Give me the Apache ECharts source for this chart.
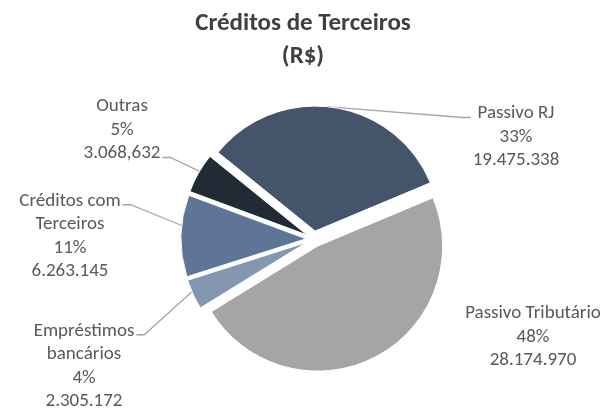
<!DOCTYPE html>
<html>
<head>
<meta charset="utf-8">
<script src="https://cdn.jsdelivr.net/npm/echarts@6/dist/echarts.min.js"></script>
<style>html,body{margin:0;padding:0;background:#fff}#c{width:606px;height:409px}</style>
</head>
<body>
<div id="c"></div>
<script>
var categories = ['Passivo RJ', 'Passivo Tributário', 'Empréstimos\nbancários', 'Créditos com\nTerceiros', 'Outras'];
var values = [19475338, 28174970, 2305172, 6263145, 3068632];
var valueLabels = ['19.475.338', '28.174.970', '2.305.172', '6.263.145', '3.068,632'];
var colors = ['#44546A', '#A5A5A5', '#8497B0', '#5E7597', '#222A35'];

// label placement (style): centre of label block, side and row the leader line attaches to
var labelPos = [[516, 137], [533, 337], [84, 366], [70, 236], [122, 130]];
var lineSide = ['left', null, 'right', 'right', 'right'];
var lineRow = [0, null, 0, 0, 2];
var anchorShift = [-0.05, 0, 0.2, 0.25, 0.1]; // where along the slice arc the leader line touches (fraction of half-span)

var FONT = 'Carlito, Lato, sans-serif';
var LH = 23.5;
var R = 125, OFFSET = 8;
var chart = echarts.init(document.getElementById('c'), null, {renderer: 'canvas'});

var sliceData = categories.map(function (c, i) {
  return {name: c, value: values[i], selected: true, itemStyle: {color: colors[i]}};
});
var labelData = categories.map(function (c, i) {
  var item = {name: c, value: values[i]};
  if (i === 1) item.labelLine = {show: false};
  return item;
});

function anchorOf(idx) {
  var data = chart.getModel().getSeriesByIndex(0).getData();
  var l = data.getItemLayout(idx);
  var mid = (l.startAngle + l.endAngle) / 2;
  var half = (l.endAngle - l.startAngle) / 2;
  var ang = mid + half * anchorShift[idx];
  var r = l.r;
  return [l.cx + OFFSET * Math.cos(mid) + r * Math.cos(ang), l.cy + OFFSET * Math.sin(mid) + r * Math.sin(ang)];
}

chart.setOption({
  animation: false,
  title: {
    text: 'Créditos de Terceiros\n(R$)',
    left: 'center',
    top: 2,
    textStyle: {fontFamily: FONT, fontSize: 25, fontWeight: 'bold', color: '#404040', lineHeight: 33}
  },
  series: [{
    type: 'pie',
    center: [314, 239],
    radius: R,
    startAngle: 141,
    clockwise: true,
    selectedMode: 'multiple',
    selectedOffset: OFFSET,
    silent: true,
    emphasis: {disabled: true},
    itemStyle: {borderColor: '#fff', borderWidth: 1},
    label: {show: false},
    labelLine: {show: false},
    data: sliceData
  }, {
    type: 'pie',
    center: [314, 239],
    radius: R + OFFSET,
    startAngle: 141,
    clockwise: true,
    silent: true,
    emphasis: {disabled: true},
    itemStyle: {color: 'rgba(0,0,0,0)'},
    label: {
      show: true,
      formatter: function (p) {
        return p.name + '\n' + Math.round(p.percent) + '%\n' + valueLabels[p.dataIndex];
      },
      fontFamily: FONT,
      fontSize: 19,
      lineHeight: LH,
      color: '#595959',
      align: 'center'
    },
    labelLine: {show: true, lineStyle: {color: '#A6A6A6', width: 1.3}},
    labelLayout: function (p) {
      var i = p.dataIndex;
      var pos = labelPos[i];
      var out = {x: pos[0], y: pos[1], align: 'center', verticalAlign: 'middle'};
      if (lineSide[i] && p.labelRect) {
        var w = p.labelRect.width, h = p.labelRect.height;
        var top = pos[1] - h / 2;
        var ey = top + LH * lineRow[i] + LH / 2 + 4;
        var ex = lineSide[i] === 'left' ? pos[0] - w / 2 - 2 : pos[0] + w / 2 + 2;
        var elbow = lineSide[i] === 'left' ? ex - 8 : ex + 8;
        out.labelLinePoints = [anchorOf(i), [elbow, ey], [ex, ey]];
      }
      return out;
    },
    data: labelData
  }]
});
</script>
</body>
</html>
